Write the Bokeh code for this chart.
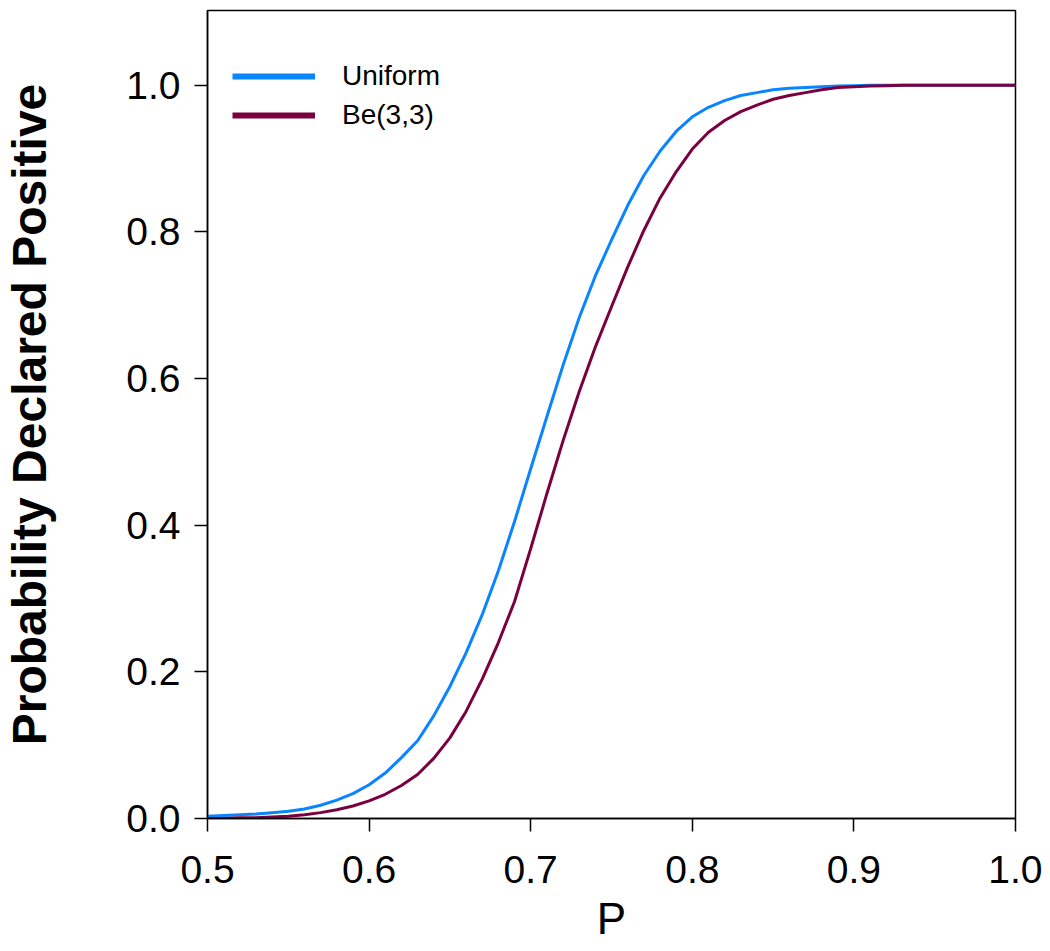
from bokeh.plotting import figure
from bokeh.models import Range1d, Legend, LegendItem, FixedTicker
from bokeh.embed import file_html
from bokeh.resources import INLINE

# Data
p_values = [round(0.50 + 0.01 * i, 2) for i in range(51)]
uniform = [0.003, 0.004, 0.005, 0.006, 0.008, 0.010, 0.013, 0.018, 0.025, 0.034,
           0.046, 0.062, 0.083, 0.106, 0.140, 0.180, 0.226, 0.278, 0.338, 0.405,
           0.477, 0.548, 0.618, 0.683, 0.740, 0.789, 0.836, 0.877, 0.910, 0.937,
           0.957, 0.970, 0.979, 0.986, 0.990, 0.994, 0.996, 0.997, 0.998, 0.999,
           0.9995, 1.0, 1.0, 1.0, 1.0, 1.0, 1.0, 1.0, 1.0, 1.0, 1.0]
beta33 = [0.000, 0.000, 0.001, 0.001, 0.002, 0.003, 0.005, 0.008, 0.012, 0.017,
          0.024, 0.033, 0.045, 0.060, 0.082, 0.110, 0.146, 0.190, 0.240, 0.296,
          0.368, 0.443, 0.515, 0.582, 0.643, 0.698, 0.752, 0.802, 0.846, 0.882,
          0.913, 0.936, 0.952, 0.964, 0.973, 0.981, 0.986, 0.990, 0.994, 0.997,
          0.998, 0.999, 0.9995, 1.0, 1.0, 1.0, 1.0, 1.0, 1.0, 1.0, 1.0]
series_names = ["Uniform", "Be(3,3)"]
series_colors = ["#0A84FF", "#7A0040"]
x_ticks = [0.5, 0.6, 0.7, 0.8, 0.9, 1.0]
y_ticks = [0.0, 0.2, 0.4, 0.6, 0.8, 1.0]
x_title = "P"
y_title = "Probability Declared Positive"

FONT = "Liberation Sans"
NAN = float("nan")

p = figure(width=1042, height=948, output_backend="svg", toolbar_location=None,
           x_range=Range1d(0.5, 1.0), y_range=Range1d(0.0, 1.102),
           min_border_left=207, min_border_right=27, min_border_top=10, min_border_bottom=130)
p.background_fill_color = "white"
p.border_fill_color = "white"
p.outline_line_color = "black"
p.outline_line_width = 1.5
p.xgrid.visible = False
p.ygrid.visible = False

r1 = p.line(p_values, uniform, line_color=series_colors[0], line_width=3)
r2 = p.line(p_values, beta33, line_color=series_colors[1], line_width=3)
# thicker legend glyphs (no visible data)
l1 = p.line([NAN, NAN], [NAN, NAN], line_color=series_colors[0], line_width=6)
l2 = p.line([NAN, NAN], [NAN, NAN], line_color=series_colors[1], line_width=6)

for ax in (p.xaxis[0], p.yaxis[0]):
    ax.axis_line_color = "black"
    ax.axis_line_width = 1.5
    ax.major_tick_line_color = "black"
    ax.major_tick_line_width = 1.5
    ax.major_tick_out = 13
    ax.major_tick_in = 0
    ax.minor_tick_line_color = None
    ax.major_label_text_font = FONT
    ax.major_label_text_font_size = "39px"
    ax.major_label_text_color = "black"
    ax.axis_label_text_color = "black"
    ax.axis_label_text_font = FONT

p.xaxis.ticker = FixedTicker(ticks=x_ticks)
p.yaxis.ticker = FixedTicker(ticks=y_ticks)
p.xaxis.major_label_overrides = {t: f"{t:.1f}" for t in x_ticks}
p.yaxis.major_label_overrides = {t: f"{t:.1f}" for t in y_ticks}
p.xaxis.major_label_standoff = 24
p.yaxis.major_label_standoff = 14

p.xaxis.axis_label = x_title
p.xaxis.axis_label_text_font_size = "44px"
p.xaxis.axis_label_text_font_style = "normal"
p.xaxis.axis_label_standoff = 8

p.yaxis.axis_label = y_title
p.yaxis.axis_label_text_font_size = "48px"
p.yaxis.axis_label_text_font_style = "bold"
p.yaxis.axis_label_standoff = 67

legend = Legend(items=[LegendItem(label=series_names[0], renderers=[l1]),
                       LegendItem(label=series_names[1], renderers=[l2])],
                location=(25, 687), orientation="vertical",
                glyph_width=83, glyph_height=20, label_height=20, spacing=7,
                label_standoff=27, padding=0, margin=0,
                border_line_alpha=0, background_fill_alpha=0,
                label_text_font=FONT, label_text_font_size="28px",
                label_text_color="black")
p.add_layout(legend)

open("out.html", "w").write(file_html(p, INLINE))
